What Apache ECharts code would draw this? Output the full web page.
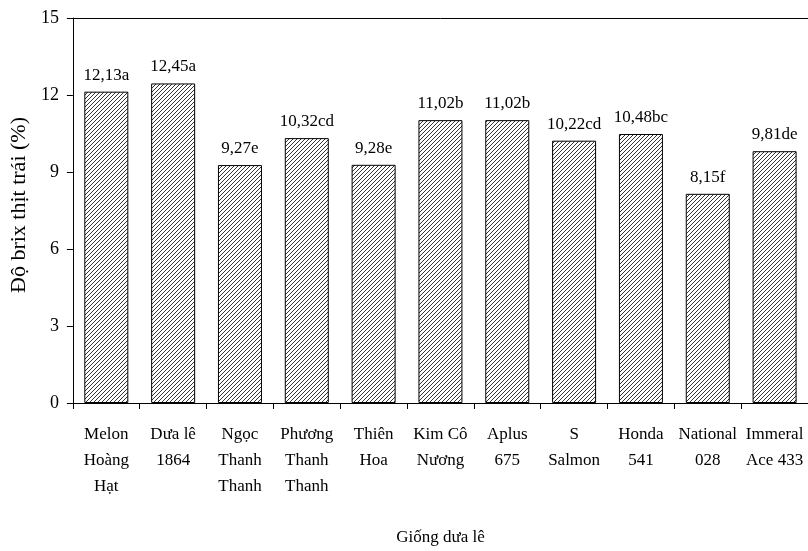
<!DOCTYPE html>
<html>
<head>
<meta charset="utf-8">
<script src="https://cdn.jsdelivr.net/npm/echarts@6/dist/echarts.min.js"></script>
<style>
  html, body { margin: 0; padding: 0; background: #fff; }
  #chart { width: 808px; height: 551px; }
</style>
</head>
<body>
<div id="chart"></div>
<script>
// Melon varieties and fruit flesh Brix (%), with significance letters
const categories = [
  'Melon\nHoàng\nHạt', 'Dưa lê\n1864', 'Ngọc\nThanh\nThanh', 'Phương\nThanh\nThanh',
  'Thiên\nHoa', 'Kim Cô\nNương', 'Aplus\n675', 'S\nSalmon', 'Honda\n541',
  'National\n028', 'Immeral\nAce 433'
];
const brixValues = [12.13, 12.45, 9.27, 10.32, 9.28, 11.02, 11.02, 10.22, 10.48, 8.15, 9.81];
const groupLetters = ['a', 'a', 'e', 'cd', 'e', 'b', 'b', 'cd', 'bc', 'f', 'de'];
const yTicks = [0, 3, 6, 9, 12, 15];

// Diagonal hatch fill for the bars
function hatchPattern() {
  const c = document.createElement('canvas');
  c.width = 4; c.height = 4;
  const g = c.getContext('2d');
  g.fillStyle = '#ffffff';
  g.fillRect(0, 0, 4, 4);
  g.strokeStyle = '#333333';
  g.lineWidth = 1;
  g.beginPath();
  g.moveTo(-1, 5); g.lineTo(5, -1);
  g.moveTo(-5, 5); g.lineTo(1, -1);
  g.moveTo(3, 5); g.lineTo(9, -1);
  g.stroke();
  return c;
}

const font = '"Liberation Serif", "Times New Roman", serif';
const chart = echarts.init(document.getElementById('chart'));

chart.setOption({
  animation: false,
  backgroundColor: '#ffffff',
  grid: { left: 70, top: 18, right: -7, bottom: 145 },
  xAxis: [{
    type: 'category',
    data: categories,
    axisLine: { lineStyle: { color: '#000', width: 1 } },
    axisTick: { show: true, length: 6, lineStyle: { color: '#000' } },
    axisLabel: {
      color: '#000', fontFamily: font, fontSize: 17, lineHeight: 26,
      margin: 19, interval: 0
    },
    name: 'Giống dưa lê',
    nameLocation: 'middle',
    nameGap: 126,
    nameTextStyle: { color: '#000', fontFamily: font, fontSize: 17 }
  }, {
    type: 'category',
    position: 'top',
    data: categories,
    axisLine: { show: true, lineStyle: { color: '#000', width: 1 } },
    axisTick: { show: false },
    axisLabel: { show: false }
  }],
  yAxis: {
    type: 'value',
    min: yTicks[0],
    max: yTicks[yTicks.length - 1],
    interval: 3,
    splitLine: { show: false },
    axisLine: { show: true, lineStyle: { color: '#000', width: 1 } },
    axisTick: { show: true, length: 6, lineStyle: { color: '#000' } },
    axisLabel: { color: '#000', fontFamily: font, fontSize: 18, margin: 14 },
    name: 'Độ brix thịt trái (%)',
    nameLocation: 'middle',
    nameGap: 40,
    nameTextStyle: { color: '#000', fontFamily: font, fontSize: 22, padding: [0, 0, 0, 11] }
  },
  series: [{
    type: 'bar',
    data: brixValues,
    barWidth: 44,
    itemStyle: {
      color: { image: hatchPattern(), repeat: 'repeat' },
      borderColor: '#000',
      borderWidth: 1
    },
    label: {
      show: true,
      position: 'top',
      distance: 8,
      color: '#000',
      fontFamily: font,
      fontSize: 17,
      formatter: p => String(p.value).replace('.', ',') + groupLetters[p.dataIndex]
    }
  }]
});
</script>
</body>
</html>
